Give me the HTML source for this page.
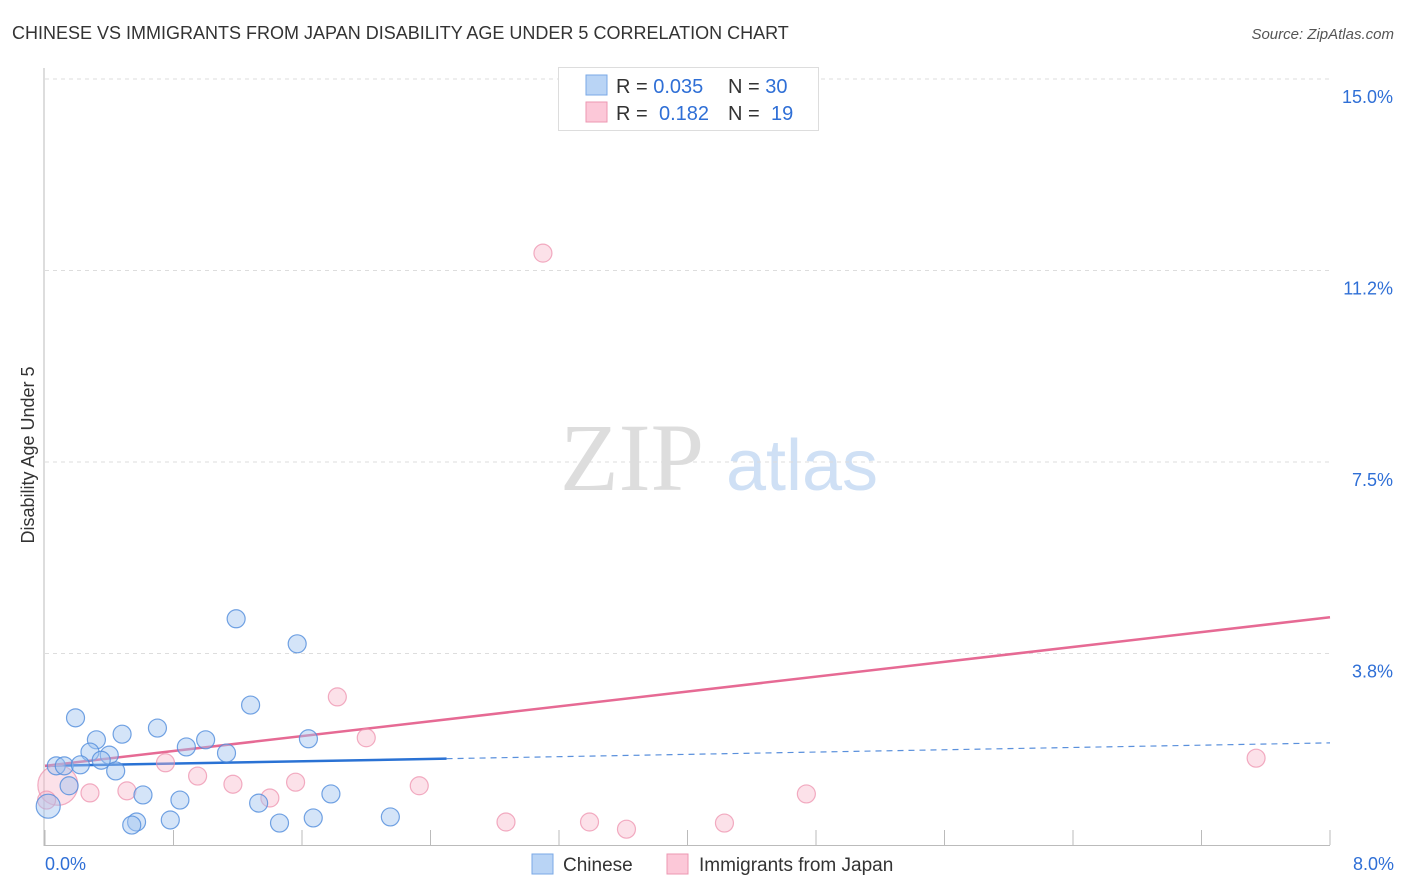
<!DOCTYPE html>
<html><head><meta charset="utf-8"><style>
body{margin:0;background:#fff;font-family:"Liberation Sans",sans-serif;}
svg{display:block}
</style></head><body>
<svg id="chart" width="1406" height="892" xmlns="http://www.w3.org/2000/svg">
<text x="12" y="39" font-size="18" fill="#333">CHINESE VS IMMIGRANTS FROM JAPAN DISABILITY AGE UNDER 5 CORRELATION CHART</text>
<text x="1394" y="39" font-size="15" fill="#555" font-style="italic" text-anchor="end">Source: ZipAtlas.com</text>
<g>
<text x="632" y="490" font-size="96" font-family="Liberation Serif,serif" fill="#ddd" text-anchor="middle">ZIP</text>
<text x="802" y="490" font-size="72" fill="#cfe0f5" text-anchor="middle">atlas</text>
</g>
<g id="grid"></g>
<g id="axes"></g>
<g id="trends"></g>
<g id="points"></g>
<text transform="translate(34,455) rotate(-90)" font-size="18" fill="#333" text-anchor="middle">Disability Age Under 5</text>
<g>
<rect x="558.5" y="67.5" width="260" height="63" fill="#fff" stroke="#ddd"/>
<rect x="586" y="75" width="21" height="20" fill="#b9d4f5" stroke="#7aa8e6"/>
<rect x="586" y="102" width="21" height="20" fill="#fcc8d8" stroke="#ec97b2"/>
<text x="616" y="93" font-size="20" fill="#333">R = <tspan fill="#2f6fd6">0.035</tspan><tspan x="728">N = </tspan><tspan fill="#2f6fd6">30</tspan></text>
<text x="616" y="120" font-size="20" fill="#333">R = <tspan x="659" fill="#2f6fd6">0.182</tspan><tspan x="728">N = </tspan><tspan x="771" fill="#2f6fd6">19</tspan></text>
</g>
<g>
<rect x="532" y="854" width="21" height="20" fill="#b9d4f5" stroke="#7aa8e6"/>
<text x="563" y="871" font-size="19" fill="#333">Chinese</text>
<rect x="667" y="854" width="21" height="20" fill="#fcc8d8" stroke="#ec97b2"/>
<text x="699" y="871" font-size="19" fill="#333">Immigrants from Japan</text>
</g>
</svg>
<script>
const yTicks=[3.75,7.5,11.25,15];
const yTickLabels=["3.8%","7.5%","11.2%","15.0%"];
const xTicks=[0,0.8,1.6,2.4,3.2,4.0,4.8,5.6,6.4,7.2,8.0];
const xEndLabels=["0.0%","8.0%"];
const chineseX=[1.19,1.57,0.19,1.28,0.70,0.48,0.32,1.00,0.88,1.64,0.28,0.40,1.13,0.07,0.12,0.22,0.35,0.44,0.15,0.61,0.84,1.78,1.33,1.67,2.15,0.78,1.46,0.57,0.54,0.02];
const chineseY=[4.43,3.94,2.49,2.74,2.29,2.17,2.06,2.06,1.92,2.08,1.82,1.76,1.80,1.55,1.55,1.57,1.66,1.45,1.16,0.98,0.88,1.00,0.82,0.53,0.55,0.49,0.43,0.45,0.39,0.76];
const japanX=[3.10,1.82,2.00,0.75,0.95,1.17,1.56,0.51,0.28,1.40,2.33,4.74,7.54,2.87,3.39,3.62,4.23,0.08,0.01];
const japanY=[11.59,2.90,2.10,1.61,1.35,1.19,1.23,1.06,1.02,0.92,1.16,1.00,1.70,0.45,0.45,0.31,0.43,1.17,0.88];
const chineseTrend=[1.55,2.00];
const japanTrend=[1.55,4.46];
const X0=45,X1=1330,Y0=845,Y1=79,XMAX=8,YMAX=15;
const sx=v=>X0+(X1-X0)*v/XMAX;
const sy=v=>Y0-(Y0-Y1)*v/YMAX;
const NS="http://www.w3.org/2000/svg";
function mk(tag,attrs,parent){const e=document.createElementNS(NS,tag);for(const k in attrs)e.setAttribute(k,attrs[k]);document.getElementById(parent).appendChild(e);return e;}
yTicks.forEach((t,i)=>{
 const l=mk('line',{x1:45,x2:1330,y1:sy(t),y2:sy(t),stroke:'#ddd','stroke-dasharray':'4,4'},'grid');
 
 
 const tx=mk('text',{x:1393,y:sy(t)+24,'font-size':18,fill:'#2f6fd6','text-anchor':'end'},'grid');
 tx.textContent=yTickLabels[i];
 
 
});
const ya=mk('line',{x1:44,x2:44,y1:68,y2:846,stroke:'#bbb'},'axes');


const xa=mk('line',{x1:44,x2:1330,y1:845.5,y2:845.5,stroke:'#bbb'},'axes');


xTicks.forEach(t=>{
 const l=mk('line',{x1:sx(t),x2:sx(t),y1:830,y2:845,stroke:'#bbb'},'axes');
 
 
});
[[0,'start',45],[1,'end',1394]].forEach(([i,a,x])=>{
 const tx=mk('text',{x:x,y:870,'font-size':18,fill:'#2f6fd6','text-anchor':a},'axes');
 tx.textContent=xEndLabels[i];
 
 
});
// trends
const tb1=mk('line',{x1:sx(0),y1:sy(chineseTrend[0]),x2:sx(2.5),y2:sy(chineseTrend[0]+(chineseTrend[1]-chineseTrend[0])*2.5/8),stroke:'#2a72d4','stroke-width':2.5},'trends');


const tb2=mk('line',{x1:sx(2.5),y1:sy(chineseTrend[0]+(chineseTrend[1]-chineseTrend[0])*2.5/8),x2:sx(8),y2:sy(chineseTrend[1]),stroke:'#5a90dc','stroke-width':1.2,'stroke-dasharray':'6,5'},'trends');


const tp=mk('line',{x1:sx(0),y1:sy(japanTrend[0]),x2:sx(8),y2:sy(japanTrend[1]),stroke:'#e66a94','stroke-width':2.5},'trends');


// points
japanX.forEach((x,i)=>{
 const r=i===17?20:9;
 const c=mk('circle',{cx:sx(x),cy:sy(japanY[i]),r:r,fill:'rgba(248,180,200,0.4)',stroke:'rgba(236,140,170,0.7)','stroke-width':1.2},'points');
 
 
});
chineseX.forEach((x,i)=>{
 const r=i===29?12:9;
 const c=mk('circle',{cx:sx(x),cy:sy(chineseY[i]),r:r,fill:'rgba(160,196,240,0.45)',stroke:'rgba(80,140,220,0.8)','stroke-width':1.2},'points');
 
 
});
</script>
</body></html>
